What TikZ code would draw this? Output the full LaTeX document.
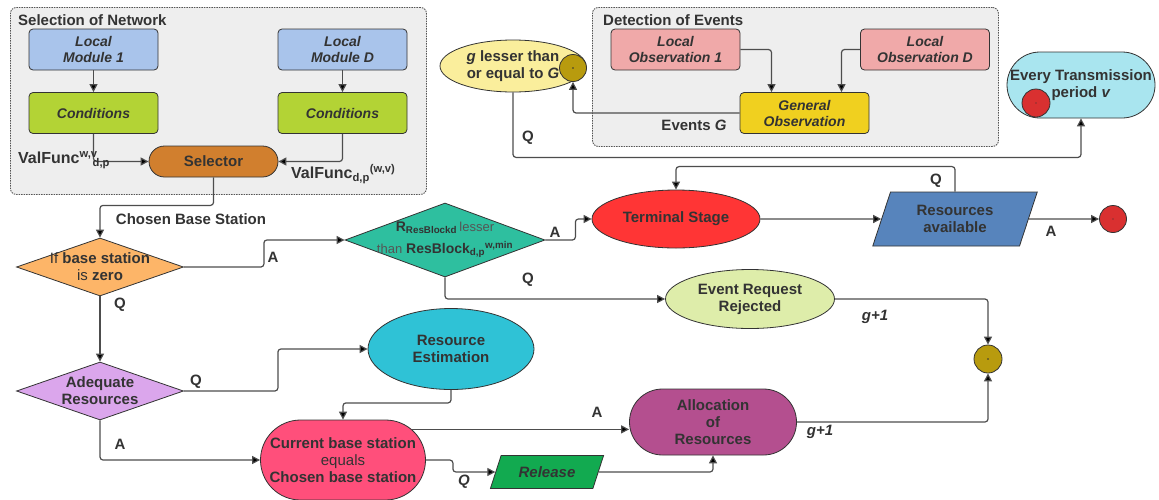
\documentclass[tikz,border=0pt]{standalone}
\usepackage{fontspec}
\setmainfont{Liberation Sans}
\usetikzlibrary{arrows.meta,shapes.geometric,shapes.misc,calc}
\definecolor{txt}{HTML}{333333}
\definecolor{txtL}{HTML}{555555}
\definecolor{edge}{HTML}{333333}
\definecolor{lnc}{HTML}{4D4D4D}
\definecolor{panelF}{HTML}{EEEEEE}
\definecolor{panelD}{HTML}{555555}
\definecolor{blueL}{HTML}{A9C4EB}
\definecolor{greenC}{HTML}{B3D335}
\definecolor{orangeS}{HTML}{D17F2E}
\definecolor{pinkO}{HTML}{F0A9A9}
\definecolor{yellowG}{HTML}{F0D01F}
\definecolor{yellowL}{HTML}{FAEE9C}
\definecolor{oliveC}{HTML}{B89B0E}
\definecolor{cyanL}{HTML}{A9E5EF}
\definecolor{redD}{HTML}{D93030}
\definecolor{orangeD}{HTML}{FDB568}
\definecolor{tealD}{HTML}{2EBF9F}
\definecolor{redT}{HTML}{FF3535}
\definecolor{blueR}{HTML}{5784BC}
\definecolor{greenE}{HTML}{DEEDAA}
\definecolor{lavD}{HTML}{DBA6EC}
\definecolor{cyanR}{HTML}{2FC2D6}
\definecolor{pinkC}{HTML}{FF4F7B}
\definecolor{greenR}{HTML}{12AA50}
\definecolor{magA}{HTML}{B44F8F}
\begin{document}
\begin{tikzpicture}[x=1pt,y=-1pt,
  every node/.style={text=txt, font=\fontsize{15}{17}\selectfont\bfseries, align=center, inner sep=0pt},
  shp/.style={draw=edge, line width=0.8pt},
  box/.style={shp, rectangle, rounded corners=4pt, minimum width=129pt, minimum height=41pt},
  itbox/.style={box, font=\fontsize{14}{16}\selectfont\bfseries\itshape},
  pill/.style={shp, rounded rectangle},
  ell/.style={shp, ellipse},
  dia/.style={shp, diamond},
  par/.style={shp, trapezium, trapezium stretches=true},
  dotc/.style={shp, circle},
  panel/.style={draw=panelD, fill=panelF, line width=0.9pt, dash pattern=on 1.5pt off 1pt, rounded corners=6pt},
  con/.style={draw=lnc, line width=1.2pt, rounded corners=3pt, -{Triangle[length=8pt,width=8pt,fill=black]}},
  lbl/.style={font=\fontsize{15}{17}\selectfont\bfseries},
  ilbl/.style={font=\fontsize{15}{17}\selectfont\bfseries\itshape},
  vlbl/.style={font=\fontsize{16}{18}\selectfont\bfseries}]
\useasboundingbox (0,0) rectangle (1159,499);
\fill[white] (0,0) rectangle (1159,499);

% panels
\node[panel, anchor=north west, minimum width=416pt, minimum height=187pt] (selnet) at (10,7) {};
\node[anchor=west] (selnetT) at (18,20) {Selection of Network};
\node[panel, anchor=north west, minimum width=406pt, minimum height=139pt] (detev) at (592,7) {};
\node[anchor=west] (detevT) at (603,20) {Detection of Events};

% selection of network
\node[itbox, fill=blueL] (lm1) at (93.5,49.5) {Local\\Module 1};
\node[itbox, fill=blueL] (lmd) at (342.5,49.5) {Local\\Module D};
\node[itbox, fill=greenC] (c1) at (93.5,113) {Conditions};
\node[itbox, fill=greenC] (cd) at (342.5,113) {Conditions};
\node[pill, fill=orangeS, minimum width=129pt, minimum height=31pt] (sel) at (213.5,161.5) {Selector};

% detection of events
\node[itbox, fill=pinkO] (lo1) at (675.5,49.5) {Local\\Observation 1};
\node[itbox, fill=pinkO] (lod) at (925,49.5) {Local\\Observation D};
\node[itbox, fill=yellowG] (go) at (804.5,113) {General\\Observation};
\node[ell, fill=yellowL, minimum width=146pt, minimum height=52pt] (gle) at (513,66) {\textit{g} lesser than\\or equal to \textit{G}};
\node[dotc, fill=oliveC, minimum size=27pt] (ol1) at (573,68) {};
\fill[txt] (ol1.center) circle (0.8pt);

\node[pill, fill=cyanL, minimum width=148pt, minimum height=66pt] (etp) at (1081,85) {};
\node[dotc, fill=redD, minimum size=28pt] (etpdot) at (1036,103) {};
\fill[txt] (etpdot.center) circle (0.7pt);
\node[font=\fontsize{15}{16.5}\selectfont\bfseries] (etpT) at (1081,85) {Every Transmission\\period \textit{v}};

% middle
\node[dia, fill=orangeD, minimum width=167pt, minimum height=58pt,
  label={center:{\mdseries If} base station\\{\mdseries is} zero}] (d1) at (100,267) {};
\node[dia, fill=tealD, minimum width=200pt, minimum height=74pt,
  label={center:{\fontsize{14}{16}\selectfont R\textsubscript{ResBlockd}\,{\mdseries\fontsize{13}{13}\selectfont\color{txtL}lesser}}\\[5pt]
  {\fontsize{14}{16}\selectfont{\mdseries\fontsize{13}{13}\selectfont\color{txtL}than} ResBlock\textsubscript{d,p}\textsuperscript{w,min}}}] (d2) at (445,240) {};
\node[ell, fill=redT, minimum width=168pt, minimum height=58pt] (term) at (676,219) {Terminal Stage};
\node[par, fill=blueR, trapezium left angle=69, trapezium right angle=111, minimum width=165pt, minimum height=54pt] (res) at (955,219) {Resources\\available};
\node[dotc, fill=redD, minimum size=27pt] (rdot) at (1113,219) {};
\fill[txt] (rdot.center) circle (0.7pt);
\node[ell, fill=greenE, minimum width=169pt, minimum height=59pt] (rej) at (750,299) {Event Request\\Rejected};
\node[dotc, fill=oliveC, minimum size=28pt] (ol2) at (988,359) {};
\fill[txt] (ol2.center) circle (0.8pt);

% bottom
\node[dia, fill=lavD, minimum width=167pt, minimum height=58pt,
  label={center:Adequate\\Resources}] (d3) at (100,391) {};
\node[ell, fill=cyanR, minimum width=166pt, minimum height=81pt] (rest) at (451,349) {Resource\\Estimation};
\node[pill, fill=pinkC, minimum width=165pt, minimum height=80pt,
  label={center:Current base station\\{\mdseries equals}\\Chosen base station}] (cur) at (343,460) {};
\node[par, fill=greenR, trapezium left angle=59, trapezium right angle=121, minimum width=114pt, minimum height=33pt,
  font=\fontsize{15}{17}\selectfont\bfseries\itshape] (rel) at (547,472) {Release};
\node[pill, fill=magA, minimum width=167pt, minimum height=66pt] (alloc) at (713,422) {Allocation\\of\\Resources};

% connectors
\draw[con] (lm1.south) -- (c1.north);
\draw[con] (lmd.south) -- (cd.north);
\draw[con] (c1.south) |- (sel.west);
\draw[con] (cd.south) |- (sel.east);
\draw[con] (sel.south) -- ++(0,28) -| (d1.north);
\draw[con] (d1.east) -- ++(80,0) |- (d2.west);
\draw[con] (d2.east) -- ++(30,0) |- (term.west);
\draw[con] (term.east) -- (res.west);
\draw[con] (res.east) -- (rdot.west);
\draw[con] (res.north) -- ++(0,-25) -| (term.north);
\draw[con] (d2.south) |- (rej.west);
\draw[con] (rej.east) -| (ol2.north);
\draw[con] (alloc.east) -| (ol2.south);
\draw[con] (d1.south) -- (d3.north);
\draw[con] (d3.east) -- ++(94,0) |- (rest.west);
\draw[con] (d3.south) |- (cur.west);
\draw[con] (rest.south) -- ++(0,13) -| (cur.north);
\draw[con] (cur.24) -- (cur.24 -| alloc.west);
\draw[con] (cur.east) -- ++(27,0) |- (rel.west);
\draw[con] (rel.east) -| (alloc.south);
\draw[con] (go.west) -| (ol1.south);
\draw[con] (lo1.east) -| ($(go.north)+(-33,0)$);
\draw[con] (lod.west) -| ($(go.north)+(37,0)$);
\draw[con] (gle.south) -- ++(0,65) -| (etp.south);

% connector labels
\node[vlbl, anchor=west] (vfl) at (18,160) {ValFunc\textsuperscript{w,v}\kern-5pt\textsubscript{d,p}};
\node[vlbl, anchor=west] (vfr) at (291,174) {ValFunc\textsubscript{d,p}\textsuperscript{(w,v)}};
\node[lbl] (cbs) at (191,219) {Chosen Base Station};
\node[lbl] (la1) at (273,257) {A};
\node[lbl] (la2) at (555,232) {A};
\node[lbl] (lq3) at (936,181) {Q};
\node[lbl] (la4) at (1051,231) {A};
\node[lbl] (lq5) at (528,280) {Q};
\node[ilbl] (lg1) at (875,317) {g+1};
\node[lbl] (lq6) at (120,305) {Q};
\node[lbl] (lq7) at (196,382) {Q};
\node[lbl] (la8) at (120,444) {A};
\node[lbl] (la9) at (597,412) {A};
\node[ilbl] (lq10) at (464,482) {Q};
\node[ilbl] (lg2) at (820,432) {g+1};
\node[lbl] (levG) at (694,125) {Events \textit{G}};
\node[lbl] (lq11) at (528,138) {Q};
\end{tikzpicture}
\end{document}
